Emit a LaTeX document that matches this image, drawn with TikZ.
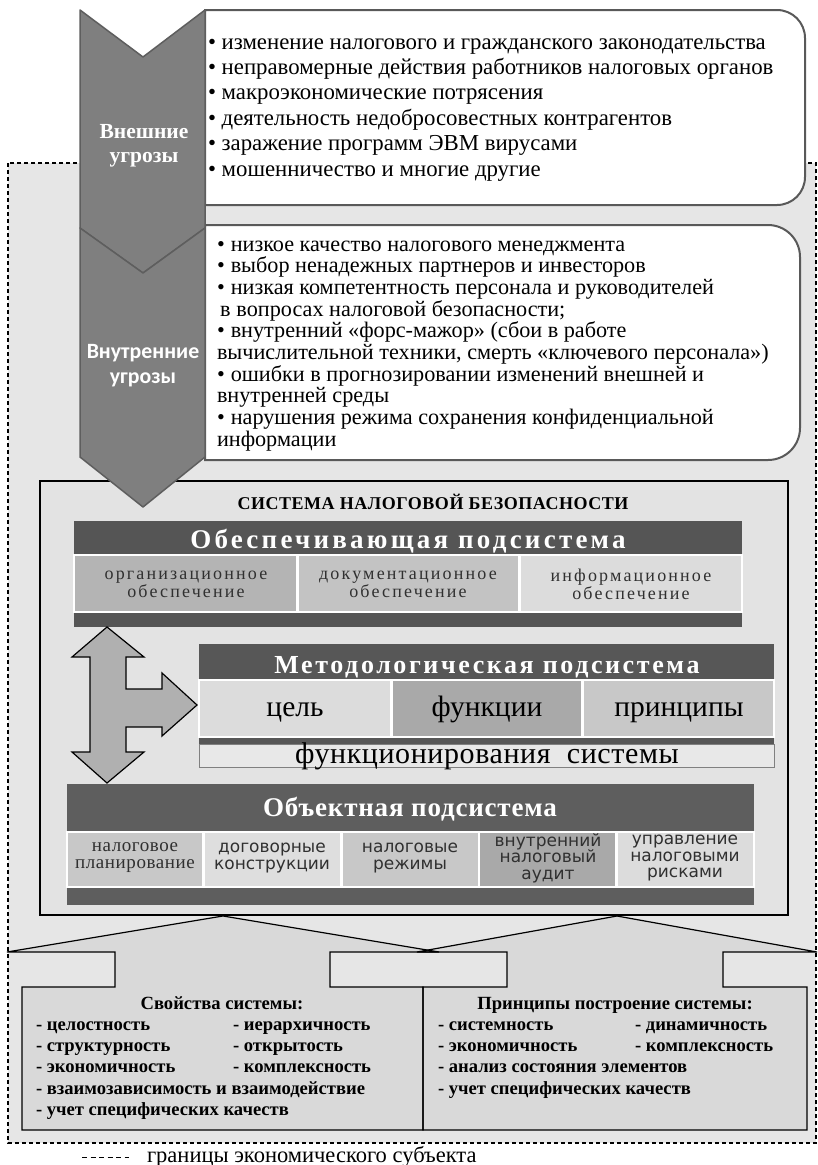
\documentclass[tikz,border=0pt]{standalone}
\usepackage{fontspec}
\setmainfont{Liberation Serif}
\newfontfamily\sansfont{DejaVu Sans}
\newfontfamily\calfont{Carlito}

\definecolor{zone}{HTML}{E6E6E6}
\definecolor{sysfill}{HTML}{E3E3E3}
\definecolor{chev}{HTML}{7F7F7F}
\definecolor{chevline}{HTML}{5E5E5E}
\definecolor{boxline}{HTML}{595959}
\definecolor{bandA}{HTML}{555555}
\definecolor{bandB}{HTML}{575757}
\definecolor{bandC}{HTML}{5E5E5E}
\definecolor{cellA}{HTML}{B4B4B4}
\definecolor{cellB}{HTML}{C3C3C3}
\definecolor{cellC}{HTML}{DCDCDC}
\definecolor{cellD}{HTML}{A9A9A9}
\definecolor{cellE}{HTML}{C8C8C8}
\definecolor{cellF}{HTML}{DEDEDE}
\definecolor{strip}{HTML}{E8E8E8}
\definecolor{callfill}{HTML}{D9D9D9}
\definecolor{celltext}{HTML}{303030}
\definecolor{arrowfill}{HTML}{B0B0B0}

\newcommand{\setfsl}[2]{\fontsize{#1}{#2}\selectfont}

\begin{document}
\begin{tikzpicture}[x=1pt,y=-1pt,
  txt/.style={inner sep=0pt, outer sep=0pt},
  frame/.style={draw=boxline, line width=2pt, fill=white},
  chevron/.style={fill=chev, draw=chevline, line width=1.5pt, line join=round},
  extline/.style={txt, anchor=base west, font=\setfsl{22.8}{25}},
  intline/.style={txt, anchor=base west, font=\setfsl{22.2}{22}},
  bandtitle/.style={txt, anchor=base, text=white},
  cellgap/.style={draw=white, line width=2.5pt},
  celltxt/.style={txt, align=center, text=celltext},
  bigword/.style={txt, anchor=base, font=\setfsl{29.5}{30}},
  item/.style={txt, anchor=base west, font=\setfsl{18.6}{20}\bfseries},
  callout/.style={line width=1.2pt, line join=miter}
]
\useasboundingbox (0,0) rectangle (818,1165);
\fill[white] (0,0) rectangle (818,1165);

% boundary of the economic subject
\draw[fill=zone, dash pattern=on 4pt off 3pt, line width=1.1pt] (8,163) rectangle (816,1143);

% tax security system frame
\draw[fill=sysfill, line width=1.3pt] (40,481) rectangle (788,915);

% threat lists
\draw[frame] (205,10) -- (777,10) .. controls (792.5,10) and (805,22.5) .. (805,38)
  -- (805,177) .. controls (805,192.5) and (792.5,205) .. (777,205) -- (205,205) -- cycle;
\draw[frame] (205,225) -- (768,225) .. controls (785.7,225) and (800,239.3) .. (800,257)
  -- (800,428) .. controls (800,445.7) and (785.7,460) .. (768,460) -- (205,460) -- cycle;

% chevrons
\draw[chevron] (80,10) -- (143,57) -- (205,10) -- (205,228) -- (143,273) -- (80,228) -- cycle;
\draw[chevron] (80,228) -- (143,273) -- (205,228) -- (205,457) -- (143,507) -- (80,457) -- cycle;

\node[txt, text=white, align=center, font=\setfsl{21.5}{24}\bfseries] (extlbl) at (144,146) {Внешние\\угрозы};
\node[txt, text=white, align=center, font=\calfont\setfsl{21.8}{25}\bfseries] (intlbl) at (143,366) {Внутренние\\угрозы};

% external threats
\foreach \t [count=\i from 0] in {
  изменение налогового и гражданского законодательства,
  неправомерные действия работников налоговых органов,
  макроэкономические потрясения,
  деятельность недобросовестных контрагентов,
  заражение программ ЭВМ вирусами,
  мошенничество и многие другие}
  \node[extline, name=ext\i] at (208,{49+25.4*\i}) {•\ \t};

% internal threats
\foreach \t [count=\i from 0] in {
  •\hspace{6pt}низкое качество налогового менеджмента,
  •\hspace{6pt}выбор ненадежных партнеров и инвесторов,
  •\hspace{6pt}низкая компетентность персонала и руководителей,
  \hspace{3pt}в\hspace{6pt}вопросах налоговой безопасности;,
  •\hspace{6pt}внутренний «форс-мажор» (сбои в работе,
  {вычислительной техники, смерть «ключевого персонала»)},
  •\hspace{6pt}ошибки в прогнозировании изменений внешней и,
  внутренней среды,
  •\hspace{6pt}нарушения режима сохранения конфиденциальной,
  информации}
  \node[intline, name=int\i] at (217,{251+21.7*\i}) {\t};

% system title
\node[txt, anchor=base, font=\setfsl{18}{20}\bfseries\addfontfeatures{LetterSpace=3}] (systitle) at (433,509) {СИСТЕМА НАЛОГОВОЙ БЕЗОПАСНОСТИ};

% supporting subsystem
\fill[bandA] (74,521) rectangle (742,627);
\fill[white] (74,555) rectangle (742,612);
\path[fill=cellA, cellgap] (74,555) rectangle (297.5,612);
\path[fill=cellB, cellgap] (297.5,555) rectangle (519.5,612);
\path[fill=cellC, cellgap] (519.5,555) rectangle (742,612);
\node[bandtitle, font=\setfsl{27}{30}\bfseries\addfontfeatures{LetterSpace=12}] (supp) at (408,548) {Обеспечивающая подсистема};
\node[celltxt, font=\setfsl{18}{18}\addfontfeatures{LetterSpace=12}] (org) at (186,584) {организационное\\обеспечение};
\node[celltxt, font=\setfsl{18}{18}\addfontfeatures{LetterSpace=12}] (doc) at (408,584) {документационное\\обеспечение};
\node[celltxt, font=\setfsl{18}{18}\addfontfeatures{LetterSpace=12}] (inf) at (631,584) {информационное\\обеспечение};

% methodological subsystem
\fill[bandB] (199,644) rectangle (774,744);
\fill[white] (199,680) rectangle (774,737);
\path[fill=cellC, cellgap] (199,680) rectangle (391.5,737);
\path[fill=cellD, cellgap] (391.5,680) rectangle (582.5,737);
\path[fill=cellE, cellgap] (582.5,680) rectangle (774,737);
\draw[fill=strip, draw=gray, line width=1pt] (199,744) rectangle (774,767);
\node[bandtitle, font=\setfsl{26}{30}\bfseries\addfontfeatures{LetterSpace=10}] (meth) at (487,673) {Методологическая подсистема};
\node[bigword] (goal) at (295,716) {цель};
\node[bigword] (func) at (487,716) {функции};
\node[bigword] (prin) at (679,716) {принципы};
\node[txt, anchor=base, font=\setfsl{30}{30}\addfontfeatures{LetterSpace=2}] (oper) at (487,763) {функционирования\ \ системы};

% link arrow between subsystems
\draw[fill=arrowfill, line width=1.2pt, line join=miter]
  (107,627) -- (144,657) -- (126,657) -- (126,689) -- (162,689) -- (162,673) -- (197,705)
  -- (162,736) -- (162,727) -- (126,727) -- (126,752) -- (144,752) -- (107,783)
  -- (72,752) -- (90,752) -- (90,657) -- (72,657) -- cycle;

% object subsystem
\fill[bandC] (67,784) rectangle (754,905);
\fill[white] (67,832) rectangle (754,887);
\path[fill=cellE, cellgap] (67,832) rectangle (203.5,887);
\path[fill=cellF, cellgap] (203.5,832) rectangle (341.5,887);
\path[fill=cellE, cellgap] (341.5,832) rectangle (479,887);
\path[fill=cellD, cellgap] (479,832) rectangle (616.5,887);
\path[fill=cellC, cellgap] (616.5,832) rectangle (754,887);
\node[bandtitle, font=\setfsl{27}{30}\bfseries\addfontfeatures{LetterSpace=3}] (obj) at (410,816) {Объектная подсистема};
\node[celltxt, font=\setfsl{19}{17}\addfontfeatures{LetterSpace=3}] (plan) at (135,858) {налоговое\\планирование};
\node[celltxt, font=\sansfont\setfsl{17}{17.5}] (contr) at (272,858) {договорные\\конструкции};
\node[celltxt, font=\sansfont\setfsl{17}{17.5}] (regm) at (410,858) {налоговые\\режимы};
\node[celltxt, font=\sansfont\setfsl{17}{16.5}] (audit) at (548,858) {внутренний\\налоговый\\аудит};
\node[celltxt, font=\sansfont\setfsl{17}{16.5}] (risk) at (685,858) {управление\\налоговыми\\рисками};

% callouts with properties and principles
\path[fill=callfill] (22,987) -- (115,987) -- (115,952) -- (7,952) -- (223,916) -- (439,952)
  -- (330,952) -- (330,987) -- (423,987) -- (423,1130) -- (22,1130) -- cycle;
\path[fill=callfill] (423,987) -- (507,987) -- (507,952) -- (417,952) -- (617,916) -- (817,952)
  -- (723,952) -- (723,987) -- (807,987) -- (807,1130) -- (423,1130) -- cycle;
\draw[callout] (22,987) -- (115,987) -- (115,952) -- (7,952) -- (223,916) -- (439,952)
  -- (330,952) -- (330,987) -- (423,987) -- (423,1130) -- (22,1130) -- cycle;
\draw[callout] (423,987) -- (507,987) -- (507,952) -- (417,952) -- (617,916) -- (817,952)
  -- (723,952) -- (723,987) -- (807,987) -- (807,1130) -- (423,1130) -- cycle;

\node[txt, anchor=base, font=\setfsl{18.6}{20}\bfseries] (proph) at (222,1009) {Свойства системы:};
\node[item] (p1) at (36,1030) {- целостность};
\node[item] (p2) at (233,1030) {- иерархичность};
\node[item] (p3) at (36,1051) {- структурность};
\node[item] (p4) at (233,1051) {- открытость};
\node[item] (p5) at (36,1072) {- экономичность};
\node[item] (p6) at (233,1072) {- комплексность};
\node[item] (p7) at (36,1094) {- взаимозависимость и взаимодействие};
\node[item] (p8) at (36,1115) {- учет специфических качеств};

\node[txt, anchor=base, font=\setfsl{18.6}{20}\bfseries] (prinh) at (615,1009) {Принципы построение системы:};
\node[item] (q1) at (438,1030) {- системность};
\node[item] (q2) at (635,1030) {- динамичность};
\node[item] (q3) at (438,1051) {- экономичность};
\node[item] (q4) at (635,1051) {- комплексность};
\node[item] (q5) at (438,1072) {- анализ состояния элементов};
\node[item] (q6) at (438,1094) {- учет специфических качеств};

% legend
\coordinate (lega) at (82,1157);
\coordinate (legb) at (129,1157);
\draw[dash pattern=on 5pt off 3.5pt, line width=1pt] (lega) -- (legb);
\node[txt, anchor=base west, font=\setfsl{22.5}{22}] (legtxt) at (147,1162) {границы экономического субъекта};
\end{tikzpicture}
\end{document}
